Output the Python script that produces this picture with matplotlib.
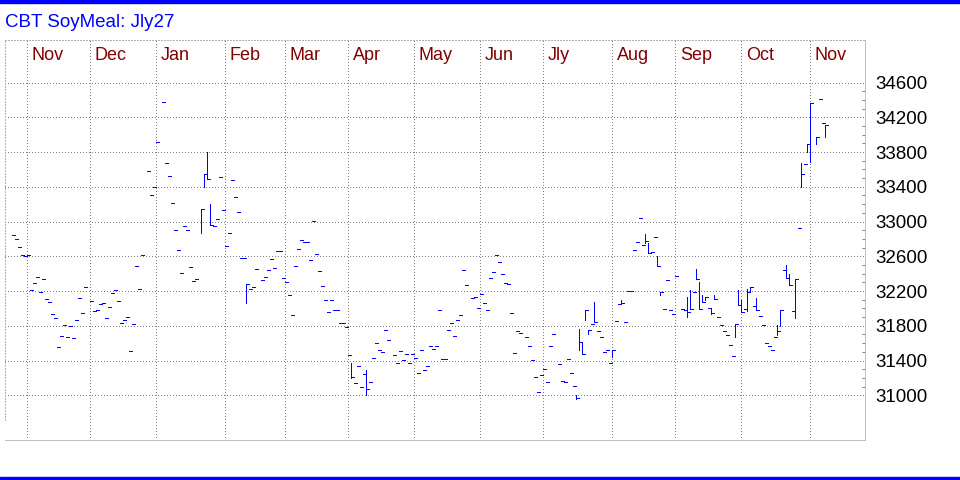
"""Daily HLC bar chart for the CBT SoyMeal Jly27 contract."""

import matplotlib.pyplot as plt
import numpy as np
import pandas as pd
from matplotlib.collections import LineCollection
from matplotlib.patches import Rectangle
from matplotlib.transforms import blended_transform_factory

plt.rcParams["font.family"] = ["Liberation Sans", "DejaVu Sans"]

# ---------------------------------------------------------------------------
# Data (one slot per weekday, None = no trade)
# ---------------------------------------------------------------------------

TITLE = "CBT SoyMeal: Jly27"
FIRST_DAY = "2024-10-25"
MONTH_LABELS = ["Nov", "Dec", "Jan", "Feb", "Mar", "Apr", "May",
                "Jun", "Jly", "Aug", "Sep", "Oct", "Nov"]
PRICE_TICKS = list(range(31000, 34601, 400))

closes = [
    32842, 32796, 32704, 32612, 32604, 32612, 32209, 32289, 32358, 32186,
    32335, 32105, 32071, 31932, 31886, 31553, 31679, 31806, 31668, 31794,
    31656, 31863, 32117, 31944, 32243, None, 32082, 31967, 31978, 32047,
    32059, 31886, 32013, 32174, 32209, 32082, 31829, 31863, 31898, 31506,
    31817, 32485, 32220, 32612, None, 33582, 33302, 33394, 33912, None,
    34373, 33671, 33521, 33210, 32899, 32669, 32404, 32945, 32899, 32473,
    32312, 32335, None, 33145, 33544, 33486, 32957, 32945, 33026, 33509,
    33130, 32715, 32865, 33475, 33279, 33107, 32577, 32577, 32282, 32220,
    32243, 32450, None, 32324, 32358, 32439, 32565, 32462, 32658, 32658,
    32347, 32301, 32151, 31921, 32485, 32681, 32784, 32761, 32761, 32554,
    33003, 32623, 32427, 32255, 32094, 31955, 32094, 31978, 31978, 31829,
    31829, 31783, 31460, 31207, 31138, 31334, 31092, 31242, 31069, 31150,
    31426, 31599, 31518, 31495, 31748, 31633, None, 31460, 31368, 31506,
    31403, 31472, 31368, 31472, 31426, 31253, 31518, 31288, 31334, 31564,
    31530, 31564, 31978, 31414, 31414, 31748, 31829, 31679, 31863, 31921,
    32439, 32266, None, 32117, 32128, 32001, 32163, 32059, 31978, 32347,
    32416, 32612, 32531, 32393, 32289, 32278, 31944, 31483, 31737, 31714,
    None, 31668, 31564, 31403, 31207, 31035, 31230, 31299, 31150, 31564,
    31702, None, 31357, 31161, 31150, 31414, 31253, 31104, 30965, 31610,
    31472, 31978, 31748, 31817, 31840, 31737, 31668, 31495, 31518, 31368,
    31518, 31852, 32047, 32059, 31840, 32197, 32197, 32669, 32761, 33037,
    32727, 32773, 32635, 32646, 32823, 32485, 32186, 31990, 32324, 31978,
    31932, 32370, None, 31990, 31978, 31955, 31990, 32186, 32335, 31990,
    32071, 32128, 32001, 31944, 32105, 31898, 31806, 31737, 31691, 31576,
    31449, 31817, 32036, 31955, 31990, 32186, 32243, 32024, 31978, 31909,
    31806, 31599, 31564, 31518, 31668, 31737, 31978, 32439, 32347, 32266,
    31967, 32335, 32922, 33544, 33663, 33893, 34361, None, 33970, 34407,
    34131, 34112,
]

# day index -> (high, low) for the days that traded a range
bar_ranges = {
    63: (33145, 32865), 64: (33544, 33402), 65: (33801, 33486),
    66: (33199, 32957), 78: (32282, 32059), 113: (31368, 31196),
    118: (31292, 31000), 188: (31000, 30954), 189: (31760, 31518),
    190: (31599, 31472), 191: (31978, 31863), 192: (31748, 31702),
    194: (32071, 31840), 200: (31518, 31437), 203: (32094, 32059),
    211: (32853, 32750), 212: (32750, 32635), 215: (32600, 32485),
    216: (32186, 32151), 225: (32128, 31898), 226: (32209, 31990),
    228: (32450, 32335), 229: (32301, 31990), 230: (32151, 32071),
    231: (32128, 32094), 233: (32001, 31932), 234: (32151, 32105),
    241: (31817, 31668), 242: (32209, 32036), 243: (32094, 31955),
    245: (32220, 31967), 246: (32243, 32186), 248: (32117, 31978),
    255: (31806, 31691), 256: (31978, 31794), 258: (32496, 32347),
    259: (32393, 32266), 261: (32335, 31886), 263: (33671, 33394),
    265: (33893, 33797), 266: (34361, 33690), 268: (33970, 33893),
    271: (34112, 33970),
}

# ---------------------------------------------------------------------------
# Style settings
# ---------------------------------------------------------------------------

BAR_COLOR = "#0000ff"
GRID_COLOR = "#808080"
BORDER_COLOR = "#b0b0b0"
MONTH_COLOR = "#800000"
PX = 72 / 100  # one pixel in points at dpi 100
DOTS = (0, (0.8, 2.2))

dates = pd.bdate_range(FIRST_DAY, periods=len(closes))
month_starts = [i for i in range(len(dates))
                if i > 0 and dates[i].month != dates[i - 1].month]

fig = plt.figure(figsize=(9.6, 4.8), dpi=100)
ax = fig.add_axes([5 / 960, 40 / 480, 860 / 960, 400 / 480])
ax.set_xlim(-2.333, 284.333)
ax.set_ylim(30485, 35090)

# bars: high-low line plus a close tick on the right
segments = []
for i, close in enumerate(closes):
    if close is None:
        continue
    high, low = bar_ranges.get(i, (close, close))
    if high > low:
        segments.append([(i, low), (i, high)])
    segments.append([(i, close), (i + 0.85, close)])
ax.add_collection(LineCollection(segments, colors=BAR_COLOR,
                                 linewidths=PX, antialiaseds=False, zorder=3))

# grid
for p in PRICE_TICKS:
    ax.axhline(p, color=GRID_COLOR, lw=PX, ls=DOTS, antialiased=False,
               zorder=1)
for i in month_starts:
    ax.axvline(i, color=GRID_COLOR, lw=PX, ls=DOTS, antialiased=False,
               zorder=1)

# month labels
trans = blended_transform_factory(ax.transData, ax.transAxes)
for i, label in zip(month_starts, MONTH_LABELS):
    ax.text(i + 1.6, 0.95, label, transform=trans, color=MONTH_COLOR,
            fontsize=13, va="baseline", ha="left")

# right price axis
ax.yaxis.tick_right()
ax.set_yticks(PRICE_TICKS)
ax.set_yticks([p for p in range(31100, 34600, 100) if (p - 31000) % 400],
              minor=True)
ax.tick_params(axis="y", which="major", length=0, pad=7.5, labelsize=13.5,
               labelcolor="black")
ax.tick_params(axis="y", which="minor", direction="in", length=3 * PX,
               width=PX, color=GRID_COLOR)
ax.set_xticks([])

# frame
ax.spines["right"].set_color("#c0c0c0")
ax.spines["right"].set_linewidth(PX)
ax.spines["bottom"].set_color("#c0c0c0")
ax.spines["bottom"].set_linewidth(PX)
for side in ("left", "top"):
    ax.spines[side].set_color(BORDER_COLOR)
    ax.spines[side].set_linewidth(PX)
    ax.spines[side].set_linestyle(DOTS)
    ax.spines[side].set_antialiased(False)
ax.spines["left"].set_bounds(30715, 35090)

# title and blue rules
fig.text(5 / 960, (480 - 26.7) / 480, TITLE, color="#0000ff", fontsize=13.5,
         va="baseline", ha="left")
fig.patches.append(Rectangle((0, 477 / 480), 1, 3 / 480, color="#0000ff",
                             transform=fig.transFigure, figure=fig))
fig.patches.append(Rectangle((0, 0), 1, 3 / 480, color="#0000ff",
                             transform=fig.transFigure, figure=fig))

fig.savefig("out.png", dpi=100)
